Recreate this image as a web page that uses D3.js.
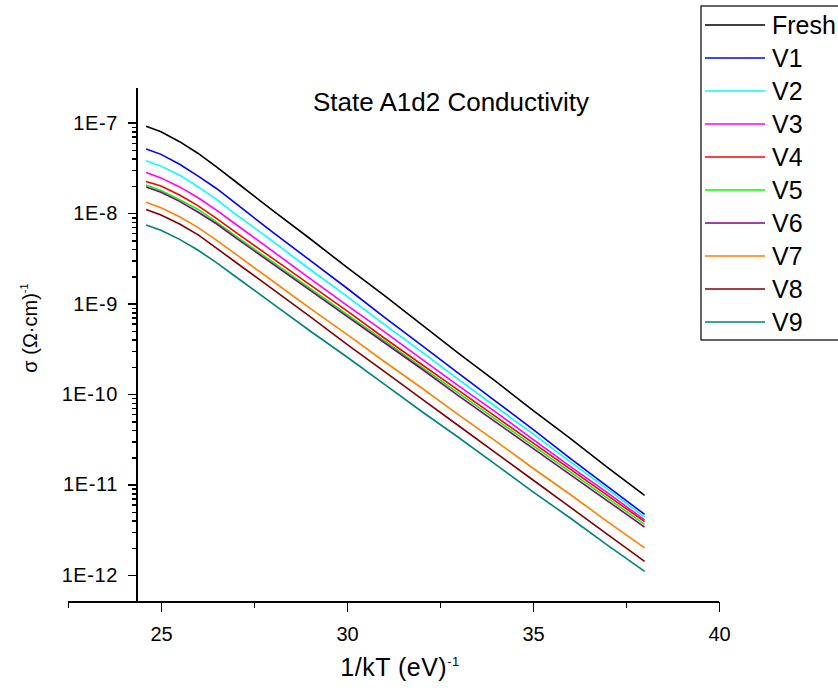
<!DOCTYPE html>
<html>
<head>
<meta charset="utf-8">
<script src="https://cdn.jsdelivr.net/npm/d3@7"></script>
<style>
  body { margin: 0; background: #fff; }
  svg { display: block; font-family: Arial, "Liberation Sans", sans-serif; }
  .axis path { display: none; }
  .axis line, .axis-line { stroke: #000; stroke-width: 1.5; shape-rendering: crispEdges; }
  .axis text { fill: #000; font-size: 20px; }
  .series { fill: none; stroke-width: 1.6; }
</style>
</head>
<body>
<svg class="chart" width="838" height="688"></svg>
<script>
(function(d3) {

  // 1/kT values (eV^-1) where the curves were read
  var invKT = [24.6, 25, 25.5, 26, 26.5, 27, 28, 29, 30, 31, 32, 33, 34, 35, 36, 37, 38];

  // log10 of conductivity
  var logFresh = [-7.04, -7.10, -7.21, -7.34, -7.49, -7.65, -7.97, -8.28, -8.60, -8.91, -9.23, -9.55, -9.86, -10.18, -10.49, -10.81, -11.12];
  var logV1    = [-7.29, -7.35, -7.46, -7.59, -7.73, -7.89, -8.21, -8.52, -8.83, -9.15, -9.46, -9.77, -10.08, -10.39, -10.71, -11.02, -11.33];
  var logV2    = [-7.42, -7.48, -7.58, -7.71, -7.85, -8.01, -8.31, -8.62, -8.92, -9.23, -9.53, -9.84, -10.14, -10.44, -10.75, -11.05, -11.36];
  var logV3    = [-7.55, -7.61, -7.71, -7.83, -7.97, -8.12, -8.42, -8.72, -9.02, -9.31, -9.61, -9.91, -10.20, -10.50, -10.80, -11.09, -11.39];
  var logV4    = [-7.65, -7.70, -7.80, -7.92, -8.06, -8.21, -8.50, -8.79, -9.08, -9.38, -9.67, -9.96, -10.25, -10.54, -10.83, -11.12, -11.41];
  var logV5    = [-7.69, -7.75, -7.85, -7.96, -8.10, -8.25, -8.54, -8.83, -9.12, -9.41, -9.70, -9.99, -10.28, -10.57, -10.86, -11.15, -11.44];
  var logV6    = [-7.71, -7.77, -7.87, -7.99, -8.12, -8.27, -8.56, -8.85, -9.14, -9.43, -9.72, -10.02, -10.31, -10.60, -10.89, -11.18, -11.47];
  var logV7    = [-7.88, -7.94, -8.04, -8.16, -8.30, -8.45, -8.75, -9.05, -9.34, -9.64, -9.93, -10.23, -10.52, -10.82, -11.11, -11.41, -11.70];
  var logV8    = [-7.96, -8.02, -8.12, -8.24, -8.39, -8.54, -8.84, -9.14, -9.45, -9.75, -10.05, -10.35, -10.65, -10.95, -11.25, -11.55, -11.85];
  var logV9    = [-8.13, -8.19, -8.29, -8.41, -8.55, -8.70, -9.00, -9.30, -9.59, -9.89, -10.19, -10.48, -10.78, -11.08, -11.37, -11.67, -11.96];

  var seriesNames  = ["Fresh", "V1", "V2", "V3", "V4", "V5", "V6", "V7", "V8", "V9"];
  var seriesColors = ["#000000", "#0000ff", "#00ffff", "#ff00ff", "#ff0000", "#00ff00", "#800080", "#ff8000", "#800000", "#008080"];
  var seriesLogs   = [logFresh, logV1, logV2, logV3, logV4, logV5, logV6, logV7, logV8, logV9];

  // Axis ticks
  var xMajor = [25, 30, 35, 40];
  var xMinor = [22.5, 27.5, 32.5, 37.5];
  var yMajor = [1e-12, 1e-11, 1e-10, 1e-9, 1e-8, 1e-7];

  var series = seriesNames.map(function(name, i) {
    return {
      name  : name,
      color : seriesColors[i],
      values: invKT.map(function(k, j) { return [k, Math.pow(10, seriesLogs[i][j])]; })
    };
  });

  var svg = d3.select("svg.chart");

  svg.append("rect")
    .attr("width", 838)
    .attr("height", 688)
    .attr("fill", "#fff")
    ;

  //** Scales **//

  var x = d3.scaleLinear()
    .domain([25, 40])
    .range([161, 719])
    ;

  var y = d3.scaleLog()
    .domain([1e-12, 1e-7])
    .range([575, 122.7])
    ;

  var axisX = 137,   // where the y axis sits
      axisY = 602,   // where the x axis sits
      axisTop = 88;

  // minor log ticks 2..9 inside each decade
  var yMinor = [];
  yMajor.slice(0, -1).forEach(function(v) {
    d3.range(2, 10).forEach(function(m) { yMinor.push(v * m); });
  });

  //** Axes **//

  var gx = svg.append("g")
    .attr("class", "axis")
    .attr("transform", "translate(0," + axisY + ")")
    ;

  gx.append("g")
    .call(d3.axisBottom(x).tickValues(xMinor).tickSize(6).tickFormat(""))
    ;
  gx.append("g")
    .call(d3.axisBottom(x).tickValues(xMajor).tickSize(10).tickPadding(15))
    ;

  svg.append("line")
    .attr("class", "axis-line")
    .attr("x1", x(22.5)).attr("x2", x(40))
    .attr("y1", axisY).attr("y2", axisY)
    ;

  var gy = svg.append("g")
    .attr("class", "axis")
    .attr("transform", "translate(" + axisX + ",0)")
    ;

  gy.append("g")
    .call(d3.axisLeft(y).tickValues(yMinor).tickSize(5).tickFormat(""))
    ;
  gy.append("g")
    .call(d3.axisLeft(y).tickValues(yMajor).tickSize(9).tickPadding(10)
      .tickFormat(function(d) { return "1E" + Math.round(Math.log10(d)); }))
    ;

  gy.selectAll("text").style("letter-spacing", "0.6px");

  svg.append("line")
    .attr("class", "axis-line")
    .attr("x1", axisX).attr("x2", axisX)
    .attr("y1", axisTop).attr("y2", axisY)
    ;

  //** Lines **//

  var line = d3.line()
    .x(function(d) { return x(d[0]); })
    .y(function(d) { return y(d[1]); })
    ;

  svg.append("g")
    .selectAll("path")
    .data(series)
    .enter().append("path")
    .attr("class", "series")
    .attr("stroke", function(d) { return d.color; })
    .attr("d", function(d) { return line(d.values); })
    ;

  //** Text **//

  svg.append("text")
    .attr("x", 451)
    .attr("y", 111)
    .attr("text-anchor", "middle")
    .style("font-size", "26px")
    .text("State A1d2 Conductivity")
    ;

  var xTitle = svg.append("text")
    .attr("x", 400)
    .attr("y", 676)
    .attr("text-anchor", "middle")
    .style("font-size", "25px")
    .style("letter-spacing", "0.5px")
    ;
  xTitle.append("tspan").text("1/kT (eV)");
  xTitle.append("tspan").attr("dy", -10).style("font-size", "13px").text("-1");

  var yTitle = svg.append("text")
    .attr("transform", "translate(37,328) rotate(-90)")
    .attr("text-anchor", "middle")
    .style("font-size", "20px")
    ;
  yTitle.append("tspan").text("σ (Ω·cm)");
  yTitle.append("tspan").attr("dy", -9).style("font-size", "11px").text("-1");

  //** Legend **//

  var legend = svg.append("g")
    .attr("transform", "translate(701,6)")
    ;

  legend.append("rect")
    .attr("width", 160)
    .attr("height", 334)
    .attr("fill", "#fff")
    .attr("stroke", "#000")
    .attr("stroke-width", 1.2)
    ;

  var item = legend.selectAll("g.item")
    .data(series)
    .enter().append("g")
    .attr("class", "item")
    .attr("transform", function(d, i) { return "translate(0," + (19 + i * 33) + ")"; })
    ;

  item.append("line")
    .attr("x1", 4).attr("x2", 64)
    .attr("stroke", function(d) { return d.color; })
    .attr("stroke-width", 1.6)
    ;

  item.append("text")
    .attr("x", 71)
    .attr("y", 9)
    .style("font-size", "25px")
    .text(function(d) { return d.name; })
    ;

})(d3);
</script>
</body>
</html>
